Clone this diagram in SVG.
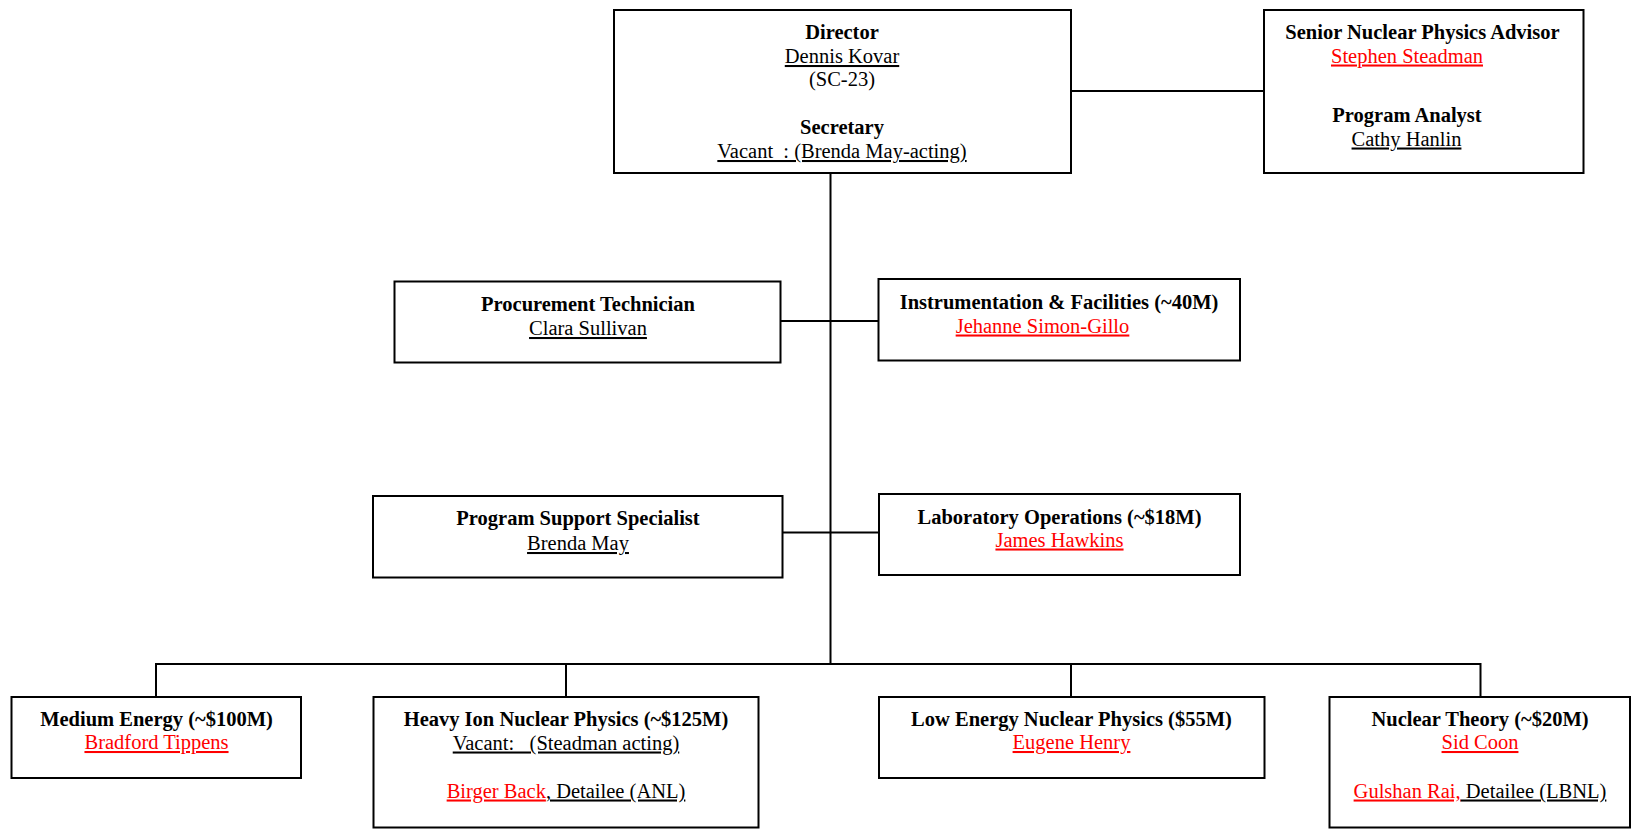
<svg xmlns="http://www.w3.org/2000/svg" width="1633" height="829" viewBox="0 0 1633 829">
<style>
.box{fill:#fff;stroke:#000;stroke-width:2}
.ln{stroke:#000;stroke-width:2;fill:none}
text{font-family:"Liberation Serif","Times New Roman",serif;font-size:20.5px;fill:#000;text-anchor:middle;white-space:pre}
.b{font-weight:bold}
.u{text-decoration:underline}
.r{fill:#ff0000}
</style>
<rect width="1633" height="829" fill="#fff"/>
<g id="connectors">
<line class="ln" x1="1071" y1="91" x2="1264" y2="91"/>
<line class="ln" x1="830.5" y1="173" x2="830.5" y2="664"/>
<line class="ln" x1="780.5" y1="321" x2="878.5" y2="321"/>
<line class="ln" x1="782.5" y1="532.5" x2="879" y2="532.5"/>
<polyline class="ln" points="156,697 156,664 1480.5,664 1480.5,697"/>
<line class="ln" x1="566" y1="664" x2="566" y2="697"/>
<line class="ln" x1="1071" y1="664" x2="1071" y2="697"/>
</g>
<g id="director">
<rect class="box" x="614" y="10" width="457" height="163"/>
<text class="b" x="842" y="39">Director</text>
<text class="u" x="842" y="63">Dennis Kovar</text>
<text x="842" y="86">(SC-23)</text>
<text class="b" x="842" y="134">Secretary</text>
<text class="u" x="842" y="158">Vacant  : (Brenda May-acting)</text>
</g>
<g id="advisor">
<rect class="box" x="1264" y="10" width="319.5" height="163"/>
<text class="b" x="1422.5" y="39">Senior Nuclear Physics Advisor</text>
<text class="u r" x="1407" y="62.5">Stephen Steadman</text>
<text class="b" x="1407" y="121.5">Program Analyst</text>
<text class="u" x="1406.5" y="145.5">Cathy Hanlin</text>
</g>
<g id="procurement">
<rect class="box" x="394.5" y="281.5" width="386" height="81"/>
<text class="b" x="588" y="310.5">Procurement Technician</text>
<text class="u" x="588" y="335">Clara Sullivan</text>
</g>
<g id="instrumentation">
<rect class="box" x="878.5" y="279" width="361.5" height="81.5"/>
<text class="b" x="1059" y="308.5">Instrumentation &amp; Facilities (~40M)</text>
<text class="u r" x="1042.5" y="332.5">Jehanne Simon-Gillo</text>
</g>
<g id="program-support">
<rect class="box" x="373" y="496" width="409.5" height="81.5"/>
<text class="b" x="578" y="525">Program Support Specialist</text>
<text class="u" x="578" y="550">Brenda May</text>
</g>
<g id="lab-operations">
<rect class="box" x="879" y="494" width="361" height="81"/>
<text class="b" x="1059.5" y="523.5">Laboratory Operations (~$18M)</text>
<text class="u r" x="1059.5" y="546.5">James Hawkins</text>
</g>
<g id="medium-energy">
<rect class="box" x="11.5" y="697" width="289.5" height="81"/>
<text class="b" x="156.5" y="726">Medium Energy (~$100M)</text>
<text class="u r" x="156.5" y="749">Bradford Tippens</text>
</g>
<g id="heavy-ion">
<rect class="box" x="373.5" y="697" width="385" height="130.5"/>
<text class="b" x="566" y="726">Heavy Ion Nuclear Physics (~$125M)</text>
<text class="u" x="566" y="749.5">Vacant:   (Steadman acting)</text>
<text x="566" y="797.5"><tspan class="u r">Birger Back</tspan><tspan class="u">, Detailee (ANL)</tspan></text>
</g>
<g id="low-energy">
<rect class="box" x="879" y="697" width="385.5" height="81"/>
<text class="b" x="1071.5" y="726">Low Energy Nuclear Physics ($55M)</text>
<text class="u r" x="1071.5" y="749">Eugene Henry</text>
</g>
<g id="nuclear-theory">
<rect class="box" x="1329.5" y="697" width="300.5" height="130.5"/>
<text class="b" x="1480" y="726">Nuclear Theory (~$20M)</text>
<text class="u r" x="1480" y="749">Sid Coon</text>
<text x="1480" y="797.5"><tspan class="u r">Gulshan Rai,</tspan><tspan class="u"> Detailee (LBNL)</tspan></text>
</g>
</svg>
